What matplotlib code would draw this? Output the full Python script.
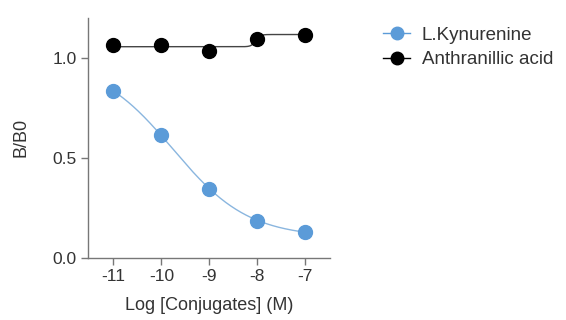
import numpy as np
import matplotlib
matplotlib.use("Agg")
import matplotlib.pyplot as plt
from matplotlib.lines import Line2D

plt.rcParams['font.family'] = ['Liberation Sans', 'DejaVu Sans']

log_conc = [-11, -10, -9, -8, -7]
kyn = [0.834, 0.613, 0.346, 0.186, 0.131]
anth = [1.067, 1.067, 1.034, 1.096, 1.117]
xticks = [-11, -10, -9, -8, -7]
yticks = [0.0, 0.5, 1.0]

blue = '#5b9bd8'


def fit4pl(x, y):
    x = np.asarray(x, float); y = np.asarray(y, float)
    best = None
    for c in np.linspace(-12, -6, 601):
        for h in np.linspace(0.3, 12, 235):
            f = 1.0 / (1.0 + 10 ** ((x - c) * h))
            A = np.vstack([np.ones_like(f), f]).T
            coef, *_ = np.linalg.lstsq(A, y, rcond=None)
            r = np.sum((A @ coef - y) ** 2)
            if best is None or r < best[0]:
                best = (r, c, h, coef)
    _, c, h, coef = best
    return lambda xx: coef[0] + coef[1] / (1.0 + 10 ** ((xx - c) * h))


fig = plt.figure(figsize=(5.66, 3.2), dpi=100)
ax = fig.add_axes([0.1555, 0.194, 0.4275, 0.75])

xs = np.linspace(-11, -7, 300)
fk = fit4pl(log_conc, kyn)
ax.plot(xs, fk(xs), color='#8ab6df', lw=1.0, zorder=2)
fa = fit4pl(log_conc, anth)
ax.plot(xs, fa(xs), color='#444444', lw=1.0, zorder=2)

ax.plot(log_conc, kyn, 'o', color=blue, ms=10, mec=blue, zorder=3)
ax.plot(log_conc, anth, 'o', color='black', ms=10, zorder=3)

ax.set_xlim(-11.53, -6.48)
ax.set_ylim(0, 1.2)
ax.set_xticks(xticks)
ax.set_xticklabels([str(t) for t in xticks])
ax.set_yticks(yticks)
ax.set_yticklabels([f'{t:.1f}' for t in yticks])
for s in ['top', 'right']:
    ax.spines[s].set_visible(False)
for s in ['left', 'bottom']:
    ax.spines[s].set_color('#777777')
    ax.spines[s].set_linewidth(1.0)
ax.tick_params(colors='#777777', labelcolor='#333333', labelsize=12.5, length=5, width=1, pad=3)
ax.set_xlabel('Log [Conjugates] (M)', fontsize=13, color='#333333', labelpad=9)
ax.set_ylabel('B/B0', fontsize=13, color='#333333', labelpad=17)

handles = [Line2D([], [], color=blue, marker='o', ms=9, lw=1.0),
           Line2D([], [], color='black', marker='o', ms=9, lw=1.0)]
fig.legend(handles, ['L.Kynurenine', 'Anthranillic acid'], loc='upper left',
           bbox_to_anchor=(0.677, 0.917), frameon=False, fontsize=13.5,
           borderpad=0, borderaxespad=0,
           handlelength=1.45, handletextpad=0.6, labelspacing=0.4,
           labelcolor='#333333')

fig.savefig('out.png', dpi=100)
